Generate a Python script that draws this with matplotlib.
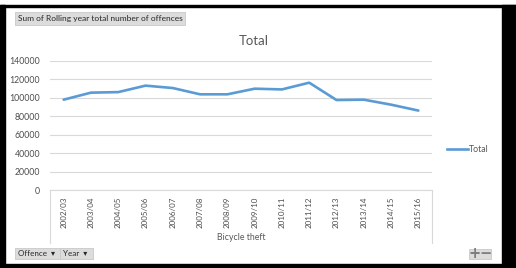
import matplotlib
matplotlib.use("Agg")
import matplotlib.pyplot as plt
from matplotlib.patches import Rectangle
from matplotlib.lines import Line2D

# -----------------------------
# Data
# -----------------------------
years = ["2002/03", "2003/04", "2004/05", "2005/06", "2006/07", "2007/08", "2008/09",
         "2009/10", "2010/11", "2011/12", "2012/13", "2013/14", "2014/15", "2015/16"]
totals = [97800, 105400, 106000, 113000, 110400, 103600, 103600,
          109700, 108900, 116200, 97400, 97800, 92400, 86000]
y_ticks = [0, 20000, 40000, 60000, 80000, 100000, 120000, 140000]

W, H = 516, 268
plt.rcParams["font.family"] = ["Lato", "DejaVu Sans"]

fig = plt.figure(figsize=(W / 100, H / 100), dpi=100)
fig.patch.set_facecolor("white")


def fx(px):
    return px / W


def fy(py):
    return 1 - py / H


# black frame of the screenshot
for x0, y0, x1, y1 in [(0, 5, 5, 268), (502, 5, 516, 268), (0, 5, 516, 7), (0, 264, 516, 268)]:
    fig.patches.append(Rectangle((fx(x0), fy(y1)), fx(x1 - x0), (y1 - y0) / H,
                                 transform=fig.transFigure, color="black", zorder=0))

# -----------------------------
# Plot area
# -----------------------------
ax = fig.add_axes([fx(50), fy(190), fx(432 - 50), (190 - 60.7) / H])
x = list(range(len(years)))
ax.plot(x, totals, color="#5b9bd5", lw=1.9, solid_capstyle="round", label="Total")
ax.set_xlim(-0.5, len(years) - 0.5)
ax.set_ylim(0, 140000)
ax.set_yticks(y_ticks)
ax.set_yticklabels([str(v) for v in y_ticks], fontsize=6.3, color="#4d4d4d")
ax.set_xticks(x)
ax.set_xticklabels(years, rotation=90, fontsize=5.8, color="#4d4d4d", va="top")
ax.tick_params(length=0, pad=5)
ax.tick_params(axis="y", pad=7)
ax.grid(axis="y", color="#d9d9d9", lw=0.8)
ax.set_axisbelow(True)
for s in ["left", "right", "top"]:
    ax.spines[s].set_visible(False)
ax.spines["bottom"].set_color("#d9d9d9")
ax.spines["bottom"].set_linewidth(0.8)

# category axis frame
for xp in [50, 432]:
    fig.add_artist(Line2D([fx(xp), fx(xp)], [fy(190), fy(243)], color="#d9d9d9", lw=0.8))

fig.text(fx(254), fy(41), "Total", ha="center", va="center", fontsize=9.5, color="#595959")
fig.text(fx(241), fy(237), "Bicycle theft", ha="center", va="center", fontsize=6.3, color="#595959")

# legend
fig.add_artist(Line2D([fx(447), fx(468)], [fy(149), fy(149)], color="#5b9bd5", lw=1.9))
fig.text(fx(469), fy(149), "Total", ha="left", va="center", fontsize=6.3, color="#595959")

# -----------------------------
# Pivot field buttons
# -----------------------------
def button(x0, y0, x1, y1, label, size=6.0):
    fig.patches.append(Rectangle((fx(x0), fy(y1)), fx(x1 - x0), (y1 - y0) / H,
                                 transform=fig.transFigure, facecolor="#dcdcdc",
                                 edgecolor="#c8c8c8", lw=0.6, zorder=2))
    fig.text(fx(x0 + 3), fy((y0 + y1) / 2), label, ha="left", va="center",
             fontsize=size, color="#262626", zorder=3)


button(15, 12.5, 185, 25, "Sum of Rolling year total number of offences", 6.0)
button(15, 248, 60, 259, "Offence  \u25be", 5.8)
button(60, 248, 93, 259, "Year  \u25be", 5.8)

fig.patches.append(Rectangle((fx(469), fy(259)), fx(22), 10 / H, transform=fig.transFigure,
                             facecolor="#dcdcdc", edgecolor="#c8c8c8", lw=0.6, zorder=2))
fig.text(fx(474.5), fy(254), "+", ha="center", va="center", fontsize=10.5, color="#7f7f7f",
         fontweight="bold", family="DejaVu Sans", zorder=3)
fig.text(fx(485.5), fy(254), "\u2212", ha="center", va="center", fontsize=10.5, color="#7f7f7f",
         fontweight="bold", family="DejaVu Sans", zorder=3)

fig.savefig("out.png", dpi=100, facecolor="white")
